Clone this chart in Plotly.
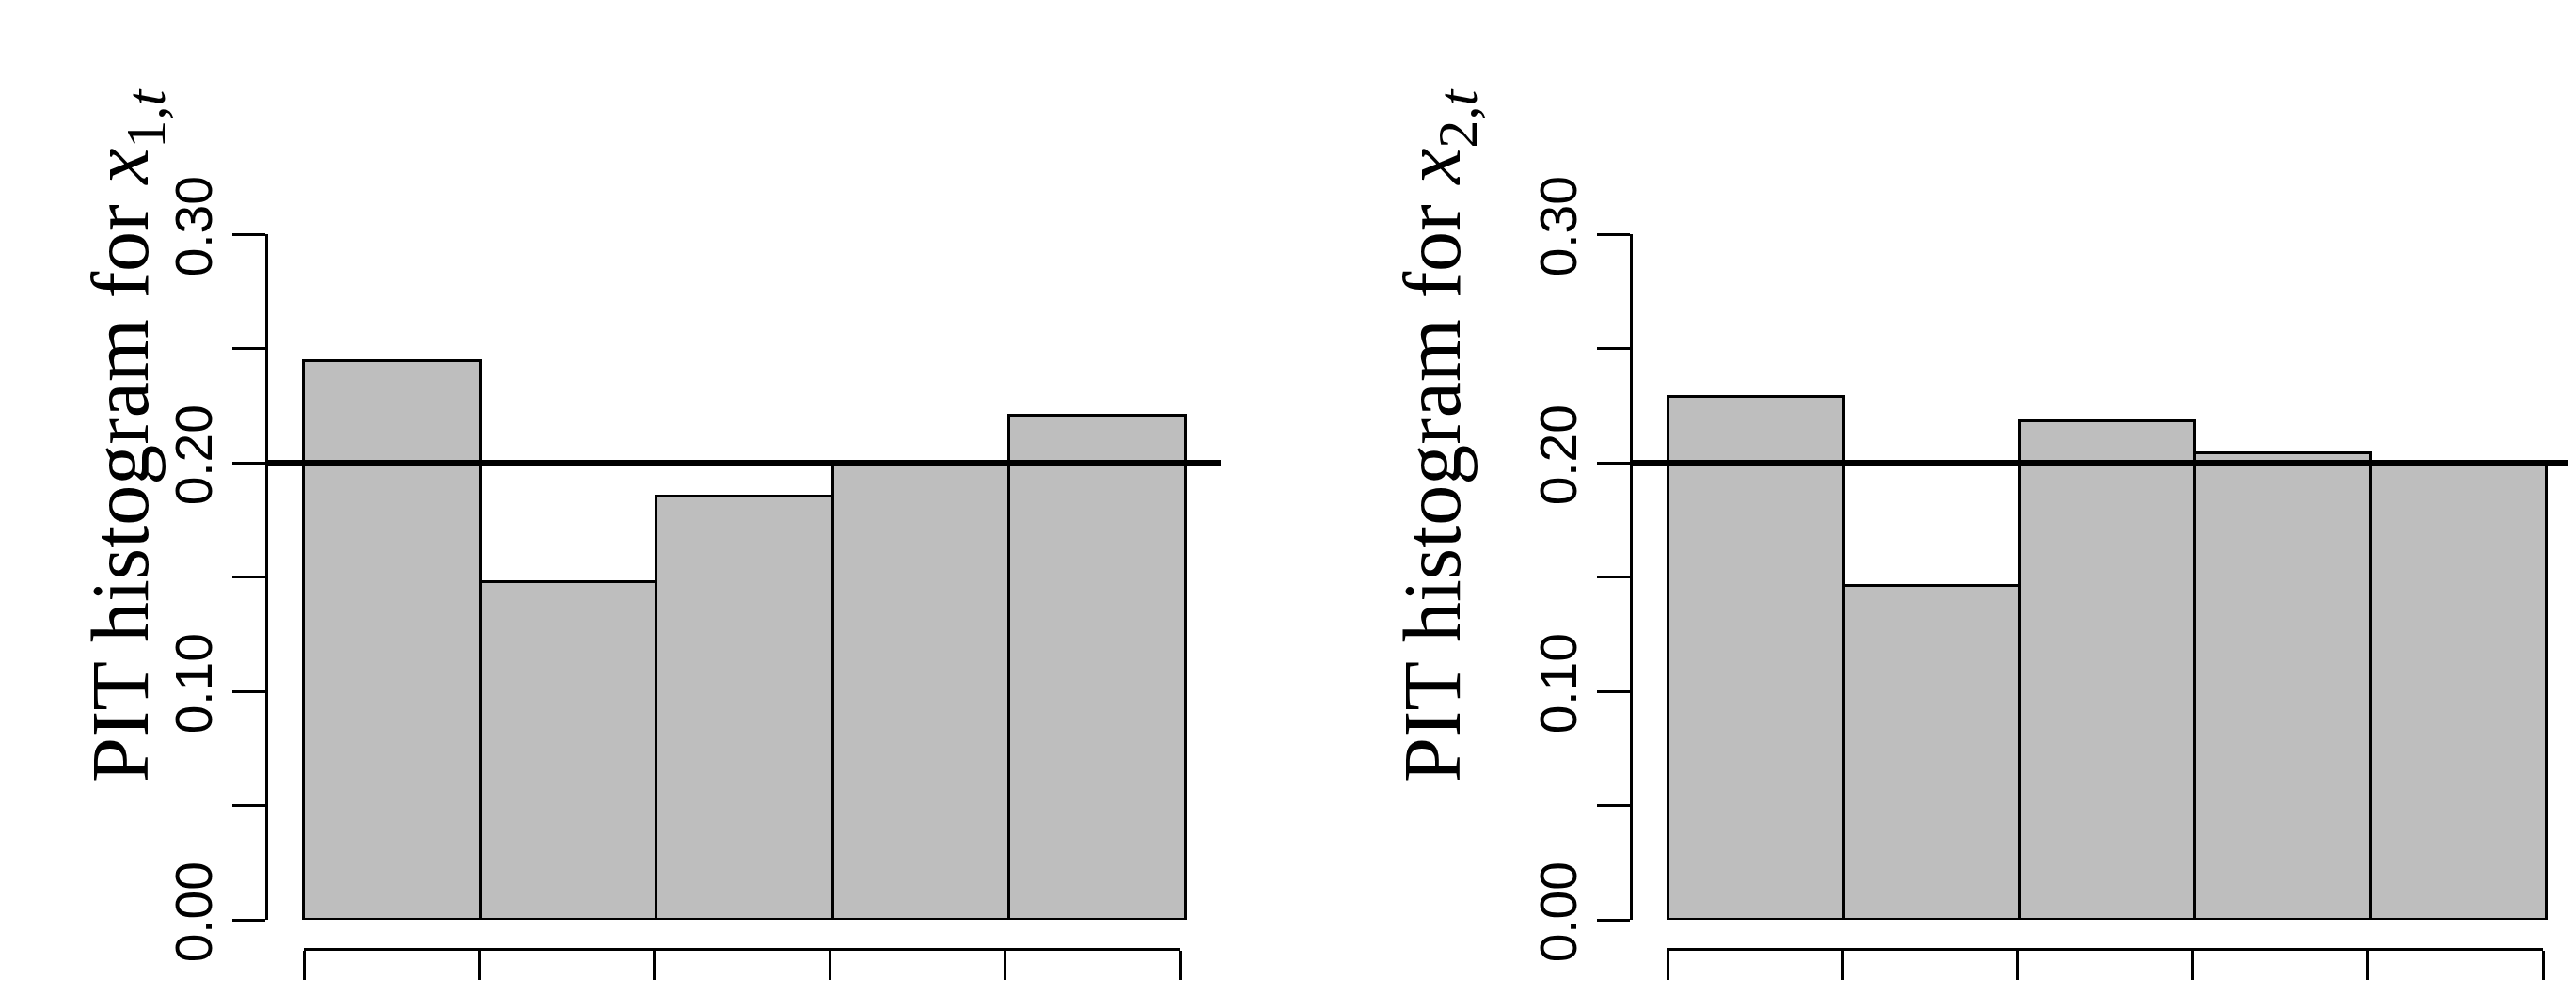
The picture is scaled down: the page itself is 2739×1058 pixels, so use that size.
import plotly.graph_objects as go

bin_centers = [0.1, 0.3, 0.5, 0.7, 0.9]
pit_x1 = [0.2445, 0.1477, 0.185, 0.199, 0.2207]
pit_x2 = [0.229, 0.146, 0.218, 0.204, 0.199]
yticks = [0.0, 0.05, 0.10, 0.15, 0.20, 0.25, 0.30]
ytick_text = ["0.00", "", "0.10", "", "0.20", "", "0.30"]
xticks = [0, 0.2, 0.4, 0.6, 0.8, 1.0]
ref_level = 0.2
labels = ["PIT histogram for <i>x</i><sub>1,<i>t</i></sub>",
          "PIT histogram for <i>x</i><sub>2,<i>t</i></sub>"]

W, H = 2739, 1058
fig = go.Figure()
panels = [
    dict(vals=pit_x1, xd=[277/W, 1290/W], bd=[315/W, 1247/W], lab=labels[0], lx=70/W),
    dict(vals=pit_x2, xd=[1728/W, 2737/W], bd=[1765/W, 2696/W], lab=labels[1], lx=1521/W),
]
ydom = [1-970/H, 1-241/H]
layout = {}
for i, p in enumerate(panels):
    n = 2*i + 1
    xa, ya, xb = f"x{n}", f"y{i+1}", f"x{n+1}"
    fig.add_trace(go.Bar(x=bin_centers, y=p["vals"], width=0.2,
                         marker=dict(color="#bebebe", line=dict(color="black", width=3)),
                         xaxis=xa, yaxis=ya, showlegend=False))
    fig.add_trace(go.Scatter(x=[-0.05, 1.05], y=[ref_level, ref_level], mode="lines",
                             line=dict(color="black", width=6), xaxis=xa, yaxis=ya,
                             showlegend=False, cliponaxis=True))
    fig.add_trace(go.Scatter(x=xticks, y=[0]*len(xticks), mode="markers",
                             marker=dict(opacity=0), xaxis=xb, yaxis=ya, showlegend=False))
    layout["xaxis" + ("" if n == 1 else str(n))] = dict(
        domain=p["xd"], range=[-0.041, 1.04], anchor=ya, visible=False, fixedrange=True)
    layout[f"xaxis{n+1}"] = dict(
        domain=p["bd"], range=[0, 1], anchor="free", position=1-1001/H,
        showline=True, linecolor="black", linewidth=3, ticks="outside", ticklen=31,
        tickwidth=3, tickcolor="black", tickvals=xticks, showticklabels=False,
        showgrid=False, zeroline=False)
    layout["yaxis" + ("" if i == 0 else str(i+1))] = dict(
        domain=ydom, range=[0, 0.3], anchor=xa, showline=True, linecolor="black",
        linewidth=3, ticks="outside", ticklen=35, tickwidth=3, tickcolor="black",
        tickvals=yticks, ticktext=ytick_text, tickangle=-90,
        tickfont=dict(family="Liberation Sans", size=55, color="black"),
        showgrid=False, zeroline=False)
    fig.add_annotation(text=p["lab"], x=p["lx"], y=1-455/H, xref="paper", yref="paper",
                       textangle=-90, showarrow=False,
                       font=dict(family="Liberation Serif", size=86, color="black"))

fig.update_layout(width=W, height=H, margin=dict(l=0, r=0, t=0, b=0, autoexpand=False),
                  plot_bgcolor="rgba(0,0,0,0)", paper_bgcolor="white", bargap=0, **layout)
fig.write_html("out.html")
